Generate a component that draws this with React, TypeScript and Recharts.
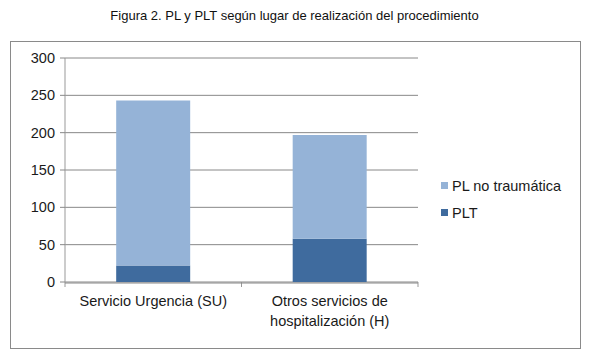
import React from 'react';
import { BarChart, Bar, XAxis, YAxis, CartesianGrid } from 'recharts';

const categories = ['Servicio Urgencia (SU)', 'Otros servicios de\nhospitalización (H)'];
const pltValues = [22, 58];
const plNoTraumValues = [221, 139];
const yTicks = [0, 50, 100, 150, 200, 250, 300];
const boundaryTicks = [0, 1, 2];

const LIGHT = '#95B3D7';
const DARK = '#3F6B9E';
const FONT = '"Liberation Sans", Arial, sans-serif';

const data = categories.map((c, i) => ({
  name: c,
  pos: i + 0.5,
  plt: pltValues[i],
  plNo: plNoTraumValues[i],
}));

function CategoryTick(props: any) {
  const { x, y, payload } = props;
  const lines = String(payload.value).split('\n');
  return (
    <g>
      {lines.map((l, i) => (
        <text key={i} x={x} y={y + 15 + i * 20} textAnchor="middle" fontSize={14.5} fill="#1a1a1a" fontFamily={FONT}>
          {l}
        </text>
      ))}
    </g>
  );
}

const legendItems = [
  { label: 'PL no traumática', color: LIGHT },
  { label: 'PLT', color: DARK },
];

export default function App() {
  return (
    <div style={{ position: 'absolute', left: 0, top: 0, width: 589, height: 355, background: '#fff', fontFamily: FONT }}>
      <div style={{ position: 'absolute', top: 8, left: 0, width: 589, textAlign: 'center', fontSize: 13, color: '#111' }}>
        Figura 2. PL y PLT según lugar de realización del procedimiento
      </div>
      <div style={{ position: 'absolute', left: 10, top: 41, width: 569, height: 306, border: '1px solid #8a8a8a' }} />
      <div style={{ position: 'absolute', left: 0, top: 0 }}>
        <BarChart width={589} height={355} data={data} margin={{ top: 58, right: 171, left: 15, bottom: 0 }} barCategoryGap="29%">
          <CartesianGrid vertical={false} stroke="#888" />
          <XAxis
            dataKey="pos"
            type="number"
            domain={[0, 2]}
            allowDataOverflow
            ticks={boundaryTicks}
            interval={0}
            height={1}
            tickSize={5}
            tickFormatter={() => ''}
            tickLine={{ stroke: '#999' }}
            axisLine={false}
          />
          <XAxis xAxisId="cat" dataKey="name" tickLine={false} axisLine={{ stroke: '#888' }} height={72} tick={<CategoryTick />} interval={0} />
          <YAxis
            domain={[0, 300]}
            ticks={yTicks}
            width={50}
            tickSize={5}
            tickMargin={5}
            axisLine={{ stroke: '#999' }}
            tickLine={{ stroke: '#888' }}
            tick={{ fontSize: 14.5, fill: '#1a1a1a', fontFamily: FONT }}
          />
          <Bar xAxisId="cat" dataKey="plt" stackId="a" fill={DARK} isAnimationActive={false} />
          <Bar xAxisId="cat" dataKey="plNo" stackId="a" fill={LIGHT} isAnimationActive={false} />
        </BarChart>
      </div>
      <div style={{ position: 'absolute', left: 441, top: 172 }}>
        {legendItems.map((it) => (
          <div key={it.label} style={{ display: 'flex', alignItems: 'center', height: 27, fontSize: 14.5, color: '#1a1a1a' }}>
            <span style={{ width: 7, height: 7, background: it.color, marginRight: 4, display: 'inline-block' }} />
            {it.label}
          </div>
        ))}
      </div>
    </div>
  );
}
